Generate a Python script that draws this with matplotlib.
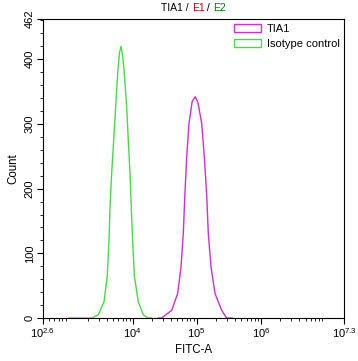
import numpy as np
import matplotlib.pyplot as plt
from matplotlib.patches import Patch
from matplotlib.ticker import FixedLocator, LogLocator, NullFormatter

plt.rcParams['font.family'] = ['Liberation Sans', 'DejaVu Sans']
plt.rcParams['mathtext.default'] = 'regular'

# log10(FITC-A) and count
tia1_log = [4.40, 4.453, 4.610, 4.703, 4.755, 4.791, 4.815, 4.844, 4.880, 4.930, 4.978,
            5.020, 5.078, 5.119, 5.156, 5.181, 5.223, 5.286, 5.390, 5.468, 5.55]
tia1_cnt = [0, 0, 12, 38, 79, 131, 190, 249, 301, 335, 342,
            333, 301, 249, 190, 131, 79, 38, 12, 0, 0]

iso_log = [3.00, 3.36, 3.464, 3.553, 3.604, 3.631, 3.646, 3.673, 3.704, 3.735, 3.766, 3.795,
           3.818, 3.845, 3.870, 3.907, 3.932, 3.959, 3.979, 4.001, 4.026, 4.088, 4.166, 4.24, 4.30]
iso_cnt = [0, 0, 5, 25, 66, 118, 170, 224, 275, 326, 378, 410,
           420, 405, 378, 326, 275, 224, 170, 118, 66, 25, 5, 0, 0]

magenta = '#d42bd4'
green = '#44dd44'
fs = 8

fig = plt.figure(figsize=(3.58, 3.61), dpi=100)
ax = fig.add_axes([0.120, 0.119, 0.841, 0.828])

ax.plot(10 ** np.array(tia1_log), tia1_cnt, color=magenta, lw=1.0)
ax.plot(10 ** np.array(iso_log), iso_cnt, color=green, lw=1.0)

ax.set_xscale('log')
ax.set_xlim(10 ** 2.6, 10 ** 7.3)
ax.set_ylim(0, 462)

xmaj = [10 ** 2.6, 1e4, 1e5, 1e6, 10 ** 7.3]
ax.xaxis.set_major_locator(FixedLocator(xmaj))
ax.set_xticklabels(['$10^{2.6}$', '$10^{4}$', '$10^{5}$', '$10^{6}$', '$10^{7.3}$'])
ax.xaxis.set_minor_locator(LogLocator(base=10, subs=np.arange(2, 10)))
ax.xaxis.set_minor_formatter(NullFormatter())

ax.set_yticks([0, 100, 200, 300, 400, 462])
ax.set_yticks(np.arange(20, 462, 20), minor=True)
ax.set_yticklabels(['0', '100', '200', '300', '400', '462'], rotation=90, va='center')

ax.tick_params(which='major', length=4, width=0.8, labelsize=fs, pad=2)
ax.tick_params(which='minor', length=2, width=0.6)

ax.set_xlabel('FITC-A', fontsize=8.3, labelpad=3)
ax.set_ylabel('Count', fontsize=8.3, labelpad=4)

# title in three colours
parts = [('TIA1 / ', 'black'), ('E1', '#c00000'), (' / ', 'black'), ('E2', '#008000')]
texts = []
for s, c in parts:
    texts.append(ax.text(0, 1.02, s, color=c, fontsize=7.5, transform=ax.transAxes,
                         va='bottom', ha='left'))
fig.canvas.draw()
r = fig.canvas.get_renderer()
widths = [tx.get_window_extent(r).width / ax.get_window_extent(r).width for tx in texts]
pos = 0.5 - sum(widths) / 2
for tx, w in zip(texts, widths):
    tx.set_x(pos)
    pos += w

handles = [Patch(facecolor='none', edgecolor=magenta, label='TIA1'),
           Patch(facecolor='none', edgecolor=green, label='Isotype control')]
ax.legend(handles=handles, loc='upper right', frameon=False, fontsize=fs,
          handlelength=2.4, handleheight=0.8, borderaxespad=0.0, labelspacing=0.45,
          handletextpad=0.5)

fig.savefig('out.png', dpi=100)
